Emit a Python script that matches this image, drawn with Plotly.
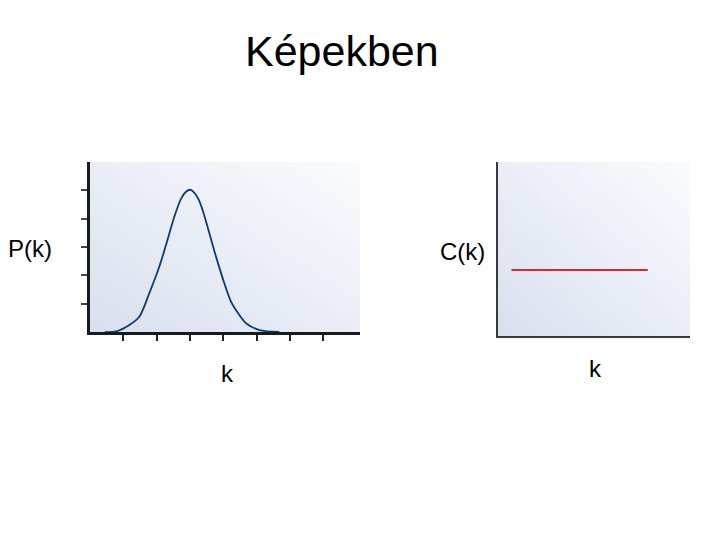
import plotly.graph_objects as go
import urllib.parse

# Degree distribution P(k)
k_p = [0.45, 0.78, 1.18, 1.48, 1.78, 2.08, 2.28, 2.53, 2.73, 2.88, 3.0, 3.12, 3.25, 3.38, 3.58,
       3.78, 4.03, 4.23, 4.48, 4.68, 5.08, 5.68]
p_vals = [0.0, 0.02, 0.25, 0.54, 1.37, 2.31, 3.07, 4.07, 4.70, 4.95, 5.02, 4.93, 4.70, 4.30, 3.49,
          2.66, 1.72, 1.07, 0.60, 0.31, 0.07, 0.0]
x_ticks = [1, 2, 3, 4, 5, 6, 7]
y_ticks = [1, 2, 3, 4, 5]

# Clustering C(k): constant
k_c = [0.07, 0.78]
c_vals = [0.38, 0.38]

title_text = "Képekben"

# page body has an 8px margin; compensate
OFF = 8
W, H = 720 - 2 * OFF, 540 - 2 * OFF


def px_x(p):
    return (p - OFF) / W


def px_y(p):
    return 1 - (p - OFF) / H


svg = ('<svg xmlns="http://www.w3.org/2000/svg" width="100" height="100" preserveAspectRatio="none">'
       '<defs><linearGradient id="g" x1="0" y1="1" x2="1" y2="0">'
       '<stop offset="0" stop-color="#d9dfee"/><stop offset="1" stop-color="#fbfcfe"/>'
       '</linearGradient></defs><rect width="100" height="100" fill="url(#g)"/></svg>')
uri = "data:image/svg+xml;charset=utf-8," + urllib.parse.quote(svg)

fig = go.Figure()
fig.add_trace(go.Scatter(x=k_p, y=p_vals, mode="lines",
                         line=dict(color="#0d3d6e", width=1.8, shape="spline", smoothing=0.8),
                         xaxis="x", yaxis="y", showlegend=False, hoverinfo="skip"))
fig.add_trace(go.Scatter(x=k_c, y=c_vals, mode="lines",
                         line=dict(color="#d9282f", width=2),
                         xaxis="x2", yaxis="y2", showlegend=False, hoverinfo="skip"))

axis_common = dict(showgrid=False, zeroline=False, showticklabels=False)

fig.update_layout(
    width=W, height=H,
    margin=dict(l=0, r=0, t=0, b=0),
    paper_bgcolor="white",
    plot_bgcolor="rgba(0,0,0,0)",
    font=dict(family="Liberation Sans, Arial, sans-serif", color="black"),
    xaxis=dict(domain=[px_x(90), px_x(360)], range=[0, 8.1], anchor="y",
               tickvals=x_ticks, ticks="outside", ticklen=6, tickwidth=2, tickcolor="#222",
               showline=True, linecolor="#1a1a1a", linewidth=3, **axis_common),
    yaxis=dict(domain=[px_y(332), px_y(162)], range=[0, 6], anchor="x",
               tickvals=y_ticks, ticks="outside", ticklen=6, tickwidth=1.5, tickcolor="#444",
               showline=True, linecolor="#1a1a1a", linewidth=3, **axis_common),
    xaxis2=dict(domain=[px_x(498), px_x(690)], range=[0, 1], anchor="y2",
                showline=True, linecolor="#3a3a3a", linewidth=2, ticks="", **axis_common),
    yaxis2=dict(domain=[px_y(336), px_y(162)], range=[0, 1], anchor="x2",
                showline=True, linecolor="#3a3a3a", linewidth=2, ticks="", **axis_common),
    images=[
        dict(source=uri, xref="paper", yref="paper", x=px_x(90), y=px_y(162),
             sizex=px_x(360) - px_x(90), sizey=px_y(162) - px_y(332),
             sizing="stretch", layer="below"),
        dict(source=uri, xref="paper", yref="paper", x=px_x(498), y=px_y(162),
             sizex=px_x(690) - px_x(498), sizey=px_y(162) - px_y(336),
             sizing="stretch", layer="below"),
    ],
    annotations=[
        dict(text=title_text, x=px_x(342), y=px_y(51), xref="paper", yref="paper",
             showarrow=False, font=dict(size=43), xanchor="center", yanchor="middle"),
        dict(text="P(k)", x=px_x(30), y=px_y(248), xref="paper", yref="paper",
             showarrow=False, font=dict(size=24), xanchor="center", yanchor="middle"),
        dict(text="k", x=px_x(227), y=px_y(373), xref="paper", yref="paper",
             showarrow=False, font=dict(size=24), xanchor="center", yanchor="middle"),
        dict(text="C(k)", x=px_x(462), y=px_y(251), xref="paper", yref="paper",
             showarrow=False, font=dict(size=24), xanchor="center", yanchor="middle"),
        dict(text="k", x=px_x(595), y=px_y(368), xref="paper", yref="paper",
             showarrow=False, font=dict(size=24), xanchor="center", yanchor="middle"),
    ],
)

fig.write_html("out.html")
